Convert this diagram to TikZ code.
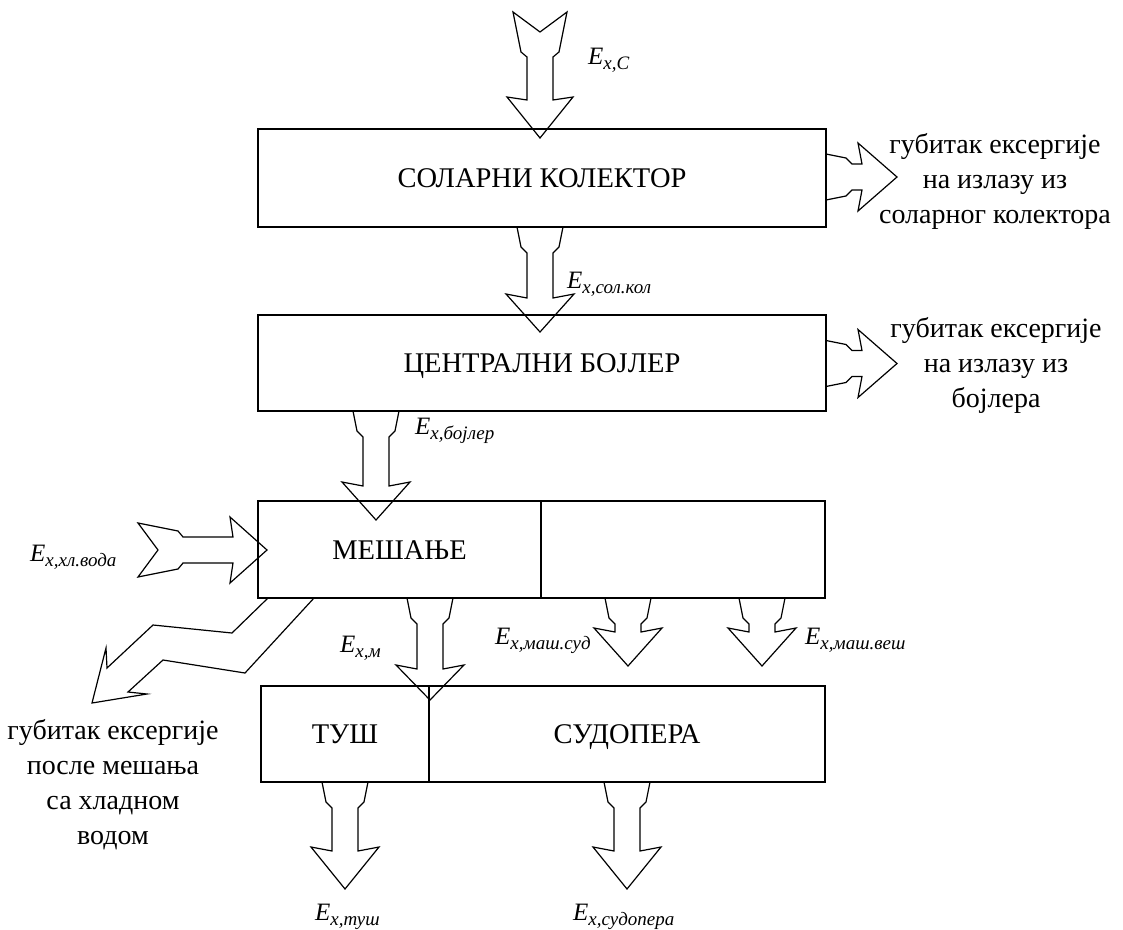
\documentclass[tikz,border=0pt]{standalone}
\usepackage{fontspec}
\setmainfont{Liberation Serif}
\newcommand\exlab[1]{{\fontsize{25}{25}\selectfont\itshape E\raisebox{-5pt}{\fontsize{19}{19}\selectfont x,#1}}}
\tikzset{
  box/.style={draw, line width=1.4pt, inner sep=0pt, text height=19pt, text depth=0pt,
    font=\fontsize{28.5}{32}\selectfont},
  flow/.style={draw, line width=1.2pt, line join=miter},
  lbl/.style={inner sep=0pt, anchor=base west},
  losstext/.style={align=center, inner sep=0pt, font=\fontsize{28}{35}\selectfont},
  % block arrow leaving a box edge: #1 = tip distance, #2 = end of shaft
  pics/outflow/.style 2 args={code={
    \draw[flow] (0,23) -- (20,19) -- (26,13) -- (#2,13) -- (#2-4,34) -- (#1,0)
      -- (#2-4,-34) -- (#2,-13) -- (26,-13) -- (20,-19) -- (0,-23);
  }},
  % free block arrow with a notched tail
  pics/notched/.style 2 args={code={
    \draw[flow] (0,27) -- (40,19) -- (45,13) -- (#2,13) -- (#2-3,33) -- (#1,0)
      -- (#2-3,-33) -- (#2,-13) -- (45,-13) -- (40,-19) -- (0,-27) -- (20,0) -- cycle;
  }}
}
\begin{document}
\begin{tikzpicture}[x=1pt, y=-1pt]
\useasboundingbox (0,0) rectangle (1123,929);

% blocks
\node[box, minimum width=568pt, minimum height=98pt] (solar) at (542,178) {СОЛАРНИ КОЛЕКТОР};
\node[box, minimum width=568pt, minimum height=96pt] (boiler) at (542,363) {ЦЕНТРАЛНИ БОЈЛЕР};
\node[box, minimum width=283pt, minimum height=97pt] (mix) at (399.5,549.5) {МЕШАЊЕ};
\node[box, minimum width=284pt, minimum height=97pt] (mixr) at (683,549.5) {};
\node[box, minimum width=168pt, minimum height=96pt] (shower) at (345,734) {ТУШ};
\node[box, minimum width=396pt, minimum height=96pt] (sink) at (627,734) {СУДОПЕРА};

% exergy flows
\pic[rotate=-90] at (540,12) {notched={126}{88}};
\pic[rotate=-90] at (540,227) {outflow={105}{71}};
\pic[rotate=-90] at (376,411) {outflow={109}{75}};
\pic[rotate=-90] at (430,598) {outflow={102}{71}};
\pic[rotate=-90] at (628,598) {outflow={68}{34}};
\pic[rotate=-90] at (762,598) {outflow={68}{34}};
\pic[rotate=-90] at (345,782) {outflow={107}{69}};
\pic[rotate=-90] at (627,782) {outflow={107}{69}};
\pic at (826,177) {outflow={71}{36}};
\pic at (826,363.5) {outflow={71}{36}};
\pic at (138,550) {notched={129}{95}};

% loss after mixing with cold water
\draw[flow] (268,598) -- (232,633) -- (153,625) -- (107,668) -- (106,648) -- (92,703)
  -- (147,694) -- (128,692) -- (163,660) -- (245,673) -- (314,598);

% flow labels
\node[lbl] (lc) at (588,64) {\exlab{C}};
\node[lbl] (lsk) at (567,288) {\exlab{сол.кол}};
\node[lbl] (lb) at (415,434) {\exlab{бојлер}};
\node[lbl] (lhv) at (30,561) {\exlab{хл.вода}};
\node[lbl] (lm) at (340,652) {\exlab{м}};
\node[lbl] (lms) at (495,644) {\exlab{маш.суд}};
\node[lbl] (lmv) at (805,644) {\exlab{маш.веш}};
\node[lbl] (lt) at (315,920) {\exlab{туш}};
\node[lbl] (ls) at (573,920) {\exlab{судопера}};

% loss texts
\node[losstext] (t1) at (995,181) {губитак ексергије\\на излазу из\\соларног колектора};
\node[losstext] (t2) at (996,365) {губитак ексергије\\на излазу из\\бојлера};
\node[losstext] (t3) at (113,785) {губитак ексергије\\после мешања\\са хладном\\водом};
\end{tikzpicture}
\end{document}
